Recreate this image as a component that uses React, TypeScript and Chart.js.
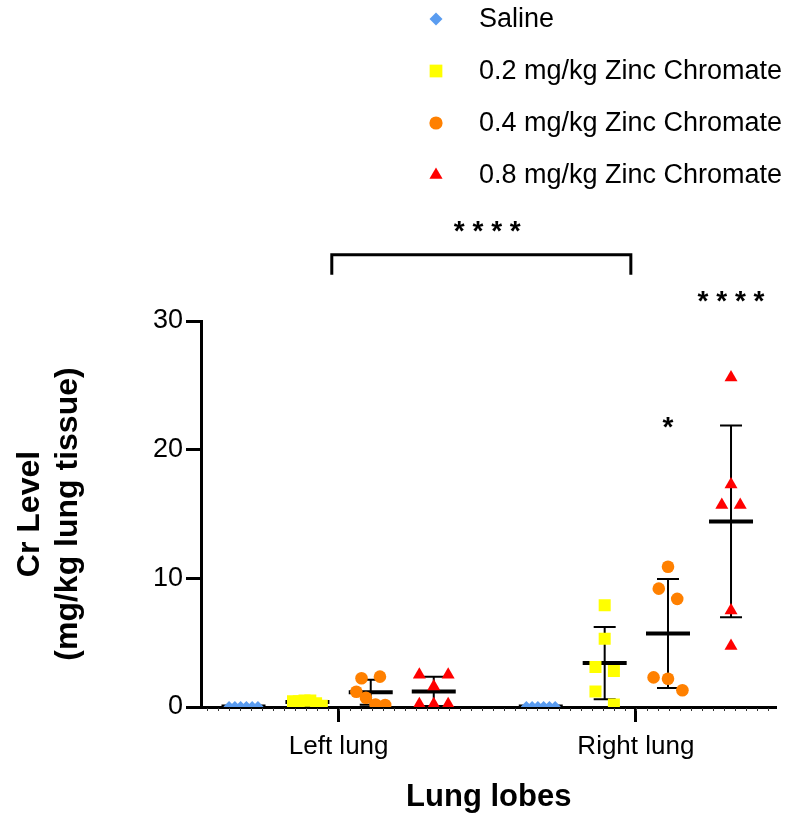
import React, { useEffect, useRef } from 'react';
import { Chart, registerables } from 'chart.js';

Chart.register(...registerables);

// ---------- data ----------
const categories = ['Left lung', 'Right lung'];
const seriesNames = [
  'Saline',
  '0.2 mg/kg Zinc Chromate',
  '0.4 mg/kg Zinc Chromate',
  '0.8 mg/kg Zinc Chromate',
];

const salineLeft = [0.03, 0.03, 0.03, 0.03, 0.03, 0.03];
const salineRight = [0.03, 0.03, 0.03, 0.03, 0.03, 0.03];
const zc02Left = [0.45, 0.45, 0.5, 0.5, 0.3, 0.1];
const zc02Right = [7.9, 5.3, 3.1, 2.8, 1.2, 0.2];
const zc04Left = [2.23, 2.36, 1.19, 0.72, 0.2, 0.15];
const zc04Right = [10.9, 9.2, 8.4, 2.3, 2.2, 1.3];
const zc08Left = [2.5, 1.6, 2.5, 0.22, 0.22, 0.22];
const zc08Right = [25.6, 17.3, 15.7, 15.7, 7.5, 4.75];

const yTickValues = [0, 10, 20, 30];
const significance = ['* * * *', '*', '* * * *']; // bracket, right 0.4, right 0.8

// ---------- styles / layout ----------
const seriesData = [
  [salineLeft, salineRight],
  [zc02Left, zc02Right],
  [zc04Left, zc04Right],
  [zc08Left, zc08Right],
];
const colors = ['#5A9CF0', '#FFFF00', '#FF8000', '#FF0000'];
const pointStyles = ['rectRot', 'rect', 'circle', 'triangle'];
const radii = [5.5, 8.5, 6.3, 7.5];
const legendRadii = [6.5, 9, 6.6, 7.6];
const groupOffset = [-0.32, -0.105, 0.108, 0.32];
const X_MIN = 0.537;
const X_MAX = 2.473;
const FONT = '"Liberation Sans", Arial, sans-serif';

function mean(a: number[]) {
  return a.reduce((s, v) => s + v, 0) / a.length;
}
function sd(a: number[]) {
  const m = mean(a);
  return Math.sqrt(a.reduce((s, v) => s + (v - m) * (v - m), 0) / (a.length - 1));
}

// simple row-based scatter spreading (Prism-like)
function swarm(values: number[], rowGap: number, maxStep: number, maxSpan: number): number[] {
  const idx = values.map((_, i) => i).sort((a, b) => values[b] - values[a] || a - b);
  const rows: number[][] = [];
  let cur: number[] = [];
  let startVal = 0;
  idx.forEach((i) => {
    if (cur.length && startVal - values[i] > rowGap) {
      rows.push(cur);
      cur = [];
    }
    if (!cur.length) startVal = values[i];
    cur.push(i);
  });
  if (cur.length) rows.push(cur);
  const off = new Array(values.length).fill(0);
  rows.forEach((row) => {
    row.sort((a, b) => a - b);
    const n = row.length;
    const step = n > 1 ? Math.min(maxStep, maxSpan / (n - 1)) : 0;
    row.forEach((i, k) => {
      off[i] = (k - (n - 1) / 2) * step;
    });
  });
  return off;
}

const datasets = seriesNames.map((name, s) => ({
  label: name,
  data: seriesData[s].flatMap((vals, c) => {
    const off = swarm(vals, 1.05, 0.062, 0.097);
    return vals.map((v, i) => ({ x: c + 1 + groupOffset[s] + off[i], y: v }));
  }),
  pointStyle: pointStyles[s],
  pointRadius: radii[s],
  pointHoverRadius: radii[s],
  backgroundColor: colors[s],
  borderColor: colors[s],
  pointBorderWidth: 0,
  borderWidth: 0,
  showLine: false,
  clip: 0,
}));

function drawMarker(ctx: CanvasRenderingContext2D, style: string, x: number, y: number, r: number, color: string) {
  ctx.fillStyle = color;
  ctx.beginPath();
  if (style === 'circle') {
    ctx.arc(x, y, r, 0, Math.PI * 2);
  } else if (style === 'rect') {
    const h = r * Math.SQRT1_2;
    ctx.rect(x - h, y - h, 2 * h, 2 * h);
  } else if (style === 'rectRot') {
    ctx.moveTo(x, y - r);
    ctx.lineTo(x + r, y);
    ctx.lineTo(x, y + r);
    ctx.lineTo(x - r, y);
    ctx.closePath();
  } else {
    ctx.moveTo(x, y - r);
    ctx.lineTo(x + r * 0.866, y + r * 0.5);
    ctx.lineTo(x - r * 0.866, y + r * 0.5);
    ctx.closePath();
  }
  ctx.fill();
}

function seg(ctx: CanvasRenderingContext2D, x1: number, y1: number, x2: number, y2: number) {
  ctx.beginPath();
  ctx.moveTo(x1, y1);
  ctx.lineTo(x2, y2);
  ctx.stroke();
}

const overlay = {
  id: 'overlay',
  beforeDatasetsDraw(chart: any) {
    const { ctx, chartArea, scales } = chart;
    const x = scales.x;
    const y = scales.y;
    ctx.save();
    ctx.beginPath();
    ctx.rect(chartArea.left, chartArea.top, chartArea.right - chartArea.left, chartArea.bottom - chartArea.top);
    ctx.clip();
    ctx.strokeStyle = '#000';
    ctx.lineCap = 'butt';
    seriesData.forEach((cats, s) => {
      cats.forEach((vals, c) => {
        const center = c + 1 + groupOffset[s];
        const m = mean(vals);
        const d = sd(vals);
        const cx = x.getPixelForValue(center);
        const capL = x.getPixelForValue(center - 0.037);
        const capR = x.getPixelForValue(center + 0.037);
        const yTop = y.getPixelForValue(m + d);
        const yBot = y.getPixelForValue(Math.max(m - d, y.min - 1));
        ctx.lineWidth = 2;
        seg(ctx, cx, yTop, cx, yBot);
        seg(ctx, capL, yTop, capR, yTop);
        seg(ctx, capL, yBot, capR, yBot);
        ctx.lineWidth = 4;
        const ym = y.getPixelForValue(m);
        seg(ctx, x.getPixelForValue(center - 0.074), ym, x.getPixelForValue(center + 0.074), ym);
      });
    });
    ctx.restore();
  },
  afterDraw(chart: any) {
    const { ctx, chartArea, scales } = chart;
    const x = scales.x;
    const y = scales.y;
    ctx.save();
    // minor ticks along x axis
    ctx.strokeStyle = '#333';
    ctx.lineWidth = 1;
    for (let v = 1 - 12 / 27; v <= X_MAX; v += 1 / 27) {
      const px = Math.round(x.getPixelForValue(v)) + 0.5;
      if (px < chartArea.left + 2 || px > chartArea.right) continue;
      seg(ctx, px, chartArea.bottom + 1, px, chartArea.bottom + 4);
    }
    // bracket
    ctx.strokeStyle = '#000';
    ctx.lineWidth = 3;
    ctx.lineJoin = 'miter';
    const bx1 = x.getPixelForValue(0.977);
    const bx2 = x.getPixelForValue(1.983);
    const byTop = y.getPixelForValue(35.15);
    const byEnd = y.getPixelForValue(33.6);
    ctx.beginPath();
    ctx.moveTo(bx1, byEnd);
    ctx.lineTo(bx1, byTop);
    ctx.lineTo(bx2, byTop);
    ctx.lineTo(bx2, byEnd);
    ctx.stroke();
    // significance text
    ctx.fillStyle = '#000';
    ctx.font = `bold 28px ${FONT}`;
    ctx.textAlign = 'center';
    ctx.textBaseline = 'alphabetic';
    ctx.fillText(significance[0], x.getPixelForValue(1.5), y.getPixelForValue(36.3));
    ctx.fillText(significance[1], x.getPixelForValue(2 + groupOffset[2]), y.getPixelForValue(21.1));
    ctx.fillText(significance[2], x.getPixelForValue(2 + groupOffset[3]), y.getPixelForValue(30.85));
    // legend
    ctx.font = `27px ${FONT}`;
    ctx.textAlign = 'left';
    ctx.textBaseline = 'middle';
    seriesNames.forEach((name, s) => {
      const ly = 20 + 52 * s;
      drawMarker(ctx, pointStyles[s], 436, ly - 1, legendRadii[s], colors[s]);
      ctx.fillStyle = '#000';
      ctx.fillText(name, 479, ly);
    });
    ctx.restore();
  },
};

export default function App() {
  const ref = useRef<HTMLCanvasElement>(null);
  useEffect(() => {
    const canvas = ref.current;
    if (!canvas) return;
    Chart.defaults.font.family = FONT;
    const chart = new Chart(canvas, {
      type: 'scatter',
      data: { datasets: datasets as any },
      options: {
        responsive: false,
        animation: false,
        events: [],
        layout: { padding: { top: 321, right: 7, bottom: 0, left: 0 } },
        plugins: {
          legend: { display: false },
          tooltip: { enabled: false },
        },
        scales: {
          x: {
            type: 'linear',
            min: X_MIN,
            max: X_MAX,
            afterBuildTicks: (s: any) => {
              s.ticks = categories.map((_, i) => ({ value: i + 1 }));
            },
            afterFit: (s: any) => {
              s.height = 108;
            },
            ticks: {
              autoSkip: false,
              maxRotation: 0,
              padding: 9,
              color: '#000',
              font: { size: 26, family: FONT },
              callback: (v: any) => categories[Math.round(Number(v)) - 1] ?? '',
            },
            grid: {
              drawOnChartArea: false,
              drawTicks: true,
              tickLength: 15,
              tickWidth: 3,
              tickColor: '#000',
            },
            border: { display: true, color: '#000', width: 3 },
            title: {
              display: true,
              text: 'Lung lobes',
              color: '#000',
              font: { size: 31, weight: 'bold', family: FONT },
              padding: { top: 0, bottom: -1 },
            },
          },
          y: {
            type: 'linear',
            min: 0,
            max: 30,
            afterBuildTicks: (s: any) => {
              s.ticks = yTickValues.map((v) => ({ value: v }));
            },
            afterFit: (s: any) => {
              s.width = 201;
            },
            ticks: {
              padding: 3,
              color: '#000',
              font: { size: 27, family: FONT },
            },
            grid: {
              drawOnChartArea: false,
              drawTicks: true,
              tickLength: 15,
              tickWidth: 3,
              tickColor: '#000',
            },
            border: { display: true, color: '#000', width: 3 },
            title: {
              display: true,
              text: ['Cr Level', '(mg/kg lung tissue)'],
              color: '#000',
              font: { size: 32, weight: 'bold', family: FONT },
              padding: { top: 11, bottom: 0 },
            },
          },
        },
      } as any,
      plugins: [overlay],
    });
    return () => chart.destroy();
  }, []);
  return (
    <div style={{ position: 'fixed', left: 0, top: 0, width: 785, height: 815, background: '#fff' }}>
      <canvas ref={ref} width={785} height={815} style={{ display: 'block' }} />
    </div>
  );
}
